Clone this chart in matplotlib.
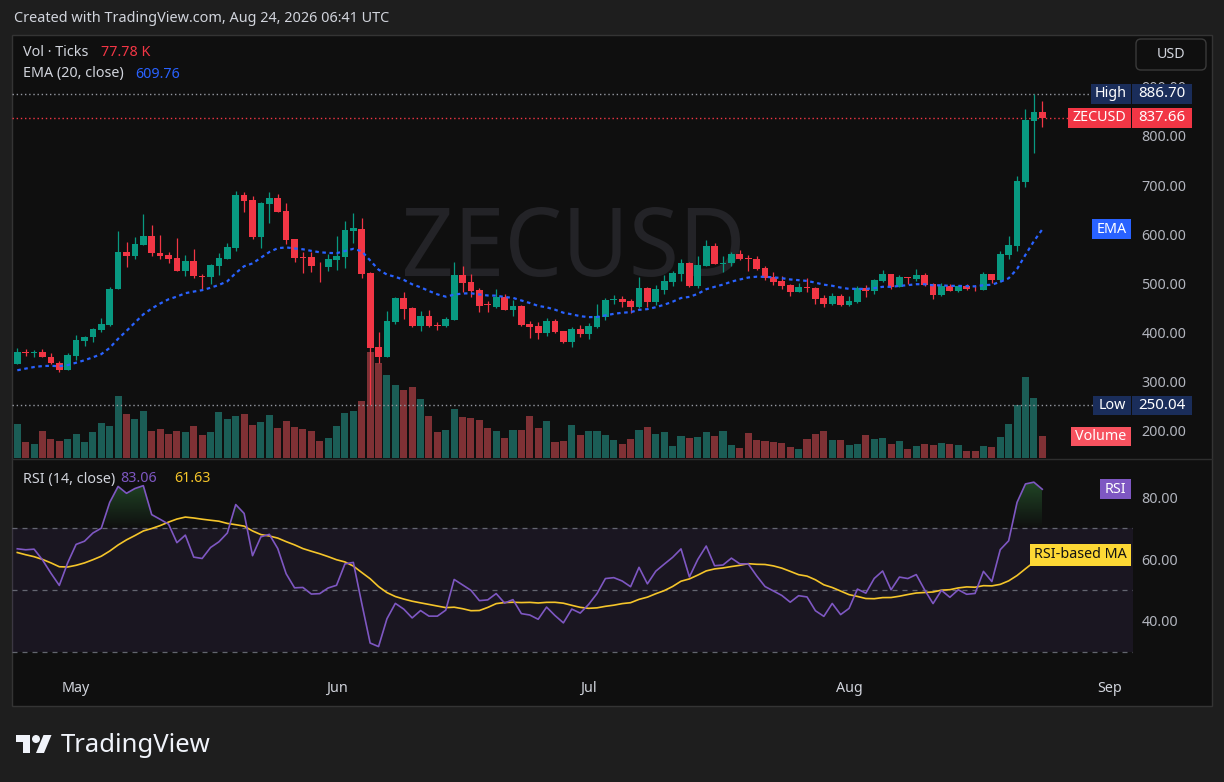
import numpy as np
import pandas as pd
import matplotlib
matplotlib.use("Agg")
import matplotlib.pyplot as plt
import matplotlib.dates as mdates
from matplotlib.patches import Rectangle, FancyBboxPatch, Polygon, Circle, PathPatch
from matplotlib.path import Path
from matplotlib.textpath import TextPath
from matplotlib.font_manager import FontProperties
from matplotlib.transforms import Affine2D
from matplotlib.colors import to_rgb

W, H = 1224, 782

# daily candles, Apr 24 -> Aug 24
dates = pd.date_range("2026-04-24", periods=123, freq="D")

opens = [335, 359, 358, 359, 350, 336, 323, 352, 382, 389,
         405, 414, 488, 563, 555, 578, 596, 562, 557, 551,
         525, 545, 514, 512, 535, 549, 571, 680, 669, 594,
         661, 673, 647, 590, 553, 553, 537, 533, 547, 553,
         606, 610, 520, 369, 349, 420, 469, 449, 412, 433,
         413, 412, 425, 516, 502, 486, 456, 451, 471, 445,
         453, 416, 412, 398, 422, 402, 380, 406, 396, 410,
         431, 465, 467, 463, 451, 490, 461, 486, 502, 518,
         541, 494, 535, 576, 539, 541, 559, 551, 549, 531,
         512, 504, 496, 482, 492, 490, 469, 457, 474, 455,
         461, 490, 484, 504, 518, 492, 512, 508, 516, 498,
         476, 494, 484, 494, 490, 486, 518, 506, 557, 576,
         706, 831, 849]

highs = [367, 365, 363, 365, 357, 341, 357, 394, 392, 408,
         429, 492, 606, 584, 594, 641, 618, 598, 563, 592,
         557, 569, 518, 539, 561, 582, 688, 686, 678, 665,
         686, 682, 663, 590, 563, 563, 543, 559, 596, 627,
         643, 633, 522, 400, 443, 471, 482, 451, 443, 445,
         420, 431, 543, 535, 518, 490, 463, 488, 478, 465,
         455, 423, 420, 429, 426, 403, 410, 414, 418, 457,
         469, 476, 474, 467, 512, 492, 496, 516, 525, 549,
         543, 555, 588, 582, 555, 563, 567, 557, 555, 535,
         523, 514, 498, 500, 510, 492, 476, 480, 478, 474,
         494, 496, 508, 527, 519, 516, 513, 529, 520, 500,
         500, 498, 495, 498, 496, 522, 519, 565, 596, 718,
         855, 886.70, 871]

lows = [335, 352, 350, 348, 335, 318, 322, 343, 372, 380,
        401, 413, 487, 533, 549, 577, 555, 549, 541, 525,
        514, 510, 488, 498, 516, 548, 565, 645, 590, 571,
        623, 645, 580, 543, 520, 522, 502, 525, 527, 531,
        582, 510, 250.04, 337, 348, 416, 427, 410, 402, 411,
        404, 411, 424, 482, 471, 441, 441, 449, 445, 433,
        412, 388, 386, 392, 398, 378, 369, 390, 386, 409,
        425, 457, 451, 439, 448, 451, 455, 478, 494, 504,
        492, 490, 535, 539, 523, 535, 547, 525, 527, 506,
        496, 488, 474, 481, 482, 457, 451, 455, 453, 453,
        460, 471, 478, 502, 488, 491, 498, 505, 494, 467,
        474, 483, 482, 486, 484, 485, 500, 502, 549, 565,
        696, 765, 818]

closes = [359, 358, 359, 349, 336, 323, 353, 384, 390, 406,
          416, 488, 563, 555, 580, 596, 561, 555, 549, 525,
          545, 514, 512, 537, 551, 574, 680, 667, 594, 663,
          673, 645, 588, 551, 552, 535, 536, 549, 555, 608,
          612, 518, 367, 349, 422, 469, 447, 412, 433, 412,
          412, 427, 516, 500, 484, 453, 455, 471, 445, 453,
          414, 410, 398, 422, 400, 380, 406, 396, 412, 433,
          465, 467, 461, 451, 490, 461, 488, 504, 520, 541,
          494, 537, 576, 539, 541, 559, 549, 549, 529, 510,
          502, 494, 482, 492, 490, 467, 457, 474, 455, 463,
          490, 484, 506, 518, 492, 512, 510, 516, 496, 476,
          494, 484, 494, 488, 489, 518, 506, 559, 578, 708,
          833, 849, 837.66]

# volume in thousands of ticks
volume_k = [120, 57, 50, 96, 67, 60, 67, 85, 57, 92,
            124, 113, 219, 156, 138, 166, 96, 103, 85, 96,
            92, 113, 81, 92, 163, 138, 149, 156, 117, 127,
            152, 106, 131, 110, 103, 96, 60, 71, 113, 159,
            166, 202, 375, 336, 294, 258, 241, 251, 209, 149,
            92, 99, 173, 145, 142, 135, 106, 96, 71, 99,
            99, 149, 106, 131, 57, 60, 117, 81, 96, 96,
            81, 64, 50, 67, 99, 110, 85, 92, 42, 78,
            71, 74, 92, 78, 96, 46, 35, 89, 64, 60,
            57, 53, 39, 32, 67, 85, 96, 64, 64, 46,
            50, 81, 67, 71, 50, 60, 32, 42, 50, 46,
            53, 50, 46, 25, 25, 42, 39, 74, 120, 188,
            287, 212, 77.78]

# indicator state before the first visible bar
ema_prev = 318.0
rsi_gain_prev, rsi_loss_prev = 8.5, 6.0
rsi_prev = [73, 72, 72, 71, 69, 60, 57, 55, 54, 54, 55, 56, 58]

# legend values as shown by TradingView
vol_text = "77.78 K"
ema_text = "609.76"
rsi_text = "83.06"
rsi_ma_text = "61.63"

month_ticks = ["2026-05-01", "2026-06-01", "2026-07-01", "2026-08-01", "2026-09-01"]
month_labels = ["May", "Jun", "Jul", "Aug", "Sep"]
price_ticks = [200, 300, 400, 500, 600, 700, 800, 900]
rsi_ticks = [40, 60, 80]

# colours
BG_OUT = "#1e1e1e"
BG = "#0f0f0f"
GREEN = "#089981"
RED = "#f23645"
VGREEN = "#1b5d56"
VRED = "#7f3135"
TXT = "#d1d4dc"
AXT = "#b2b5be"
NAVY = "#1a2d5a"
FS = 10.3

plt.rcParams["font.family"] = ["Noto Sans", "DejaVu Sans"]

o = np.array(opens, float)
h = np.array(highs, float)
l = np.array(lows, float)
c = np.array(closes, float)
xd = mdates.date2num(dates)

# EMA(20)
k = 2 / 21
ema = []
e = ema_prev
for v in c:
    e = e + k * (v - e)
    ema.append(e)
ema = np.array(ema)

# RSI(14), Wilder smoothing
ag, al = rsi_gain_prev, rsi_loss_prev
prev = o[0]
rsi = []
for v in c:
    ch = v - prev
    ag = (ag * 13 + max(ch, 0)) / 14
    al = (al * 13 + max(-ch, 0)) / 14
    rsi.append(100 - 100 / (1 + ag / al))
    prev = v
rsi = np.array(rsi)
rsi_ma = pd.Series(rsi_prev + list(rsi)).rolling(14).mean().to_numpy()[len(rsi_prev):]

fig = plt.figure(figsize=(W / 100, H / 100), dpi=100, facecolor=BG_OUT)
tpix = Affine2D().scale(1 / W, -1 / H).translate(0, 1) + fig.transFigure

# chart frame
fig.add_artist(Rectangle((12, 35), 1200, 671, transform=tpix, facecolor=BG,
                         edgecolor="#343434", lw=1, zorder=-2))

L, R = 12, 1133
P_TOP, P_BOT = 35, 458
S_TOP, S_BOT = 459, 675

def rect(top, bot):
    return [L / W, 1 - bot / H, (R - L) / W, (bot - top) / H]

ax_vol = fig.add_axes(rect(P_TOP, P_BOT))
ax = fig.add_axes(rect(P_TOP, P_BOT), sharex=ax_vol)
ax_rsi = fig.add_axes(rect(S_TOP, S_BOT), sharex=ax_vol)
for a in (ax_vol, ax, ax_rsi):
    a.set_facecolor("none")
    for s in a.spines.values():
        s.set_visible(False)

x0 = xd[0] - 0.63
x1 = xd[0] + 132.8

# watermark
tp = TextPath((0, 0), "ZECUSD", size=100, prop=FontProperties(family="Noto Sans"))
bb = tp.get_extents()
wm = Affine2D().translate(-bb.x0, -bb.y0).scale(335 / bb.width, -70 / bb.height).translate(405, 277) + tpix
fig.add_artist(PathPatch(tp, transform=wm, facecolor="#232327", edgecolor="none", zorder=-1))

# volume
vcols = [VGREEN if cc > oo else VRED for oo, cc in zip(o, c)]
ax_vol.bar(xd, volume_k, width=0.84, color=vcols, linewidth=0)
ax_vol.set_ylim(0, 1497)
ax_vol.set_yticks([])
ax_vol.tick_params(bottom=False, labelbottom=False)

# candles
cols = [GREEN if cc > oo else RED for oo, cc in zip(o, c)]
ax.vlines(xd, l, h, colors=cols, linewidth=0.9, zorder=3)
body_lo = np.minimum(o, c)
body_h = np.maximum(np.abs(c - o), 1.4)
ax.bar(xd, body_h, bottom=body_lo, width=0.8, color=cols, linewidth=0, zorder=4)
ax.plot(xd, ema, color="#2962ff", lw=1.6, ls=(0, (1.6, 1.6)), zorder=5)

ax.axhline(max(h), color="#9598a1", lw=1, ls=(0, (1, 2)), zorder=2)
ax.axhline(c[-1], color=RED, lw=1, ls=(0, (1, 2)), zorder=2)
ax.axhline(min(l), color="#9598a1", lw=1, ls=(0, (1, 2)), zorder=2)

ax.set_ylim(142.9, 1006.1)
ax.set_xlim(x0, x1)
ax.yaxis.tick_right()
ax.set_yticks(price_ticks)
ax.set_yticklabels([f"{v:.2f}" for v in price_ticks])
ax.tick_params(axis="y", length=0, pad=6, labelcolor=AXT, labelsize=FS)
ax.tick_params(axis="x", bottom=False, labelbottom=False)

# RSI pane
ax_rsi.axhspan(30, 70, color="#7e57c2", alpha=0.1, lw=0)
for lev in (70, 50, 30):
    ax_rsi.axhline(lev, color="#787b86", lw=0.9, ls=(0, (4, 4)), alpha=0.8)
fb = ax_rsi.fill_between(xd, rsi, 70, where=rsi > 70, interpolate=True,
                         facecolor="none", edgecolor="none")
clip = Path.make_compound_path(*fb.get_paths())
grad = np.zeros((200, 1, 4))
grad[..., :3] = to_rgb("#3fa34d")
grad[:, 0, 3] = np.linspace(0.0, 0.5, 200)
im = ax_rsi.imshow(grad, extent=(xd[0], xd[-1], 70, 90), origin="lower",
                   aspect="auto", interpolation="bilinear", zorder=1)
im.set_clip_path(clip, transform=ax_rsi.transData)
ax_rsi.plot(xd, rsi_ma, color="#f5c52a", lw=1.2, zorder=3)
ax_rsi.plot(xd, rsi, color="#7e57c2", lw=1.2, zorder=4)
ax_rsi.set_ylim(22.58, 92.26)
ax_rsi.set_xlim(x0, x1)
ax_rsi.yaxis.tick_right()
ax_rsi.set_yticks(rsi_ticks)
ax_rsi.set_yticklabels([f"{v:.2f}" for v in rsi_ticks])
ax_rsi.tick_params(axis="y", length=0, pad=6, labelcolor=AXT, labelsize=FS)
ax_rsi.set_xticks(mdates.date2num(pd.to_datetime(month_ticks)))
ax_rsi.set_xticklabels(month_labels, fontweight="semibold")
ax_rsi.tick_params(axis="x", length=0, pad=4, labelcolor=TXT, labelsize=10.3)

# pane separator
fig.add_artist(plt.Line2D([12, 1212], [458.5, 458.5], transform=tpix, color="#2e2e2e", lw=1))

def ypix(axis, v):
    return H - axis.transData.transform((xd[0], v))[1]

def tag(xa, xb, yc, hh, text, fc, tc="white", size=FS):
    fig.add_artist(Rectangle((xa, yc - hh / 2), xb - xa, hh, transform=tpix,
                             facecolor=fc, edgecolor="none", zorder=5))
    fig.text((xa + xb) / 2, yc, text, transform=tpix, ha="center", va="center",
             color=tc, fontsize=size, zorder=6)

y = ypix(ax, max(h))
tag(1091, 1131, y, 20, "High", NAVY)
tag(1132, 1192, y, 20, f"{max(h):.2f}", NAVY, size=10.8)
y = ypix(ax, c[-1])
tag(1068, 1131, y, 20, "ZECUSD", RED)
tag(1132, 1192, y, 20, f"{c[-1]:.2f}", RED, size=10.8)
tag(1092, 1131, ypix(ax, ema[-1]), 20, "EMA", "#2962ff")
y = ypix(ax, min(l))
tag(1093, 1131, y, 19, "Low", NAVY)
tag(1132, 1192, y, 19, f"{min(l):.2f}", NAVY, size=10.8)
tag(1071, 1131, ypix(ax_vol, volume_k[-1]), 19, "Volume", "#f7525f")
tag(1100, 1131, ypix(ax_rsi, rsi[-1]), 20, "RSI", "#7e57c2")
tag(1030, 1131, ypix(ax_rsi, rsi_ma[-1]), 22, "RSI-based MA", "#fdd835", tc="#131313")

# currency button
fig.add_artist(FancyBboxPatch((1136, 39), 70, 31, boxstyle="round,pad=0,rounding_size=5",
                              transform=tpix, facecolor=BG, edgecolor="#3a3a3a", lw=1, zorder=5))
fig.text(1171, 54.5, "USD", transform=tpix, ha="center", va="center", color=TXT,
         fontsize=FS, zorder=6)

# legends
fig.text(14, 19, "Created with TradingView.com, Aug 24, 2026 06:41 UTC", transform=tpix,
         va="center", color=TXT, fontsize=10.4)
fig.text(23, 53, "Vol · Ticks", transform=tpix, va="center", color=TXT, fontsize=FS)
fig.text(101, 53, vol_text, transform=tpix, va="center", color=RED, fontsize=FS)
fig.text(23, 74, "EMA (20, close)", transform=tpix, va="center", color=TXT, fontsize=FS)
fig.text(135, 74, ema_text, transform=tpix, va="center", color="#2962ff", fontsize=FS)
fig.text(23, 479, "RSI (14, close)", transform=tpix, va="center", color=TXT, fontsize=FS)
fig.text(120, 479, rsi_text, transform=tpix, va="center", color="#7e57c2", fontsize=FS)
fig.text(174, 479, rsi_ma_text, transform=tpix, va="center", color="#f5c52a", fontsize=FS)

# TradingView logo
logo = "#f0f3fa"
fig.add_artist(Polygon([(30, 753), (23, 753), (23, 742), (16, 742), (16, 735), (30, 735)],
                       closed=True, transform=tpix, facecolor=logo, edgecolor="none"))
fig.add_artist(Polygon([(44, 753), (36, 753), (43.5, 735), (51.5, 735)],
                       closed=True, transform=tpix, facecolor=logo, edgecolor="none"))
fig.add_artist(Circle((36, 739), 4, transform=tpix, facecolor=logo, edgecolor="none"))
fig.text(61, 745, "TradingView", transform=tpix, va="center", color=logo,
         fontsize=18.5, fontweight="bold")

fig.savefig("out.png", dpi=100, facecolor=fig.get_facecolor())
